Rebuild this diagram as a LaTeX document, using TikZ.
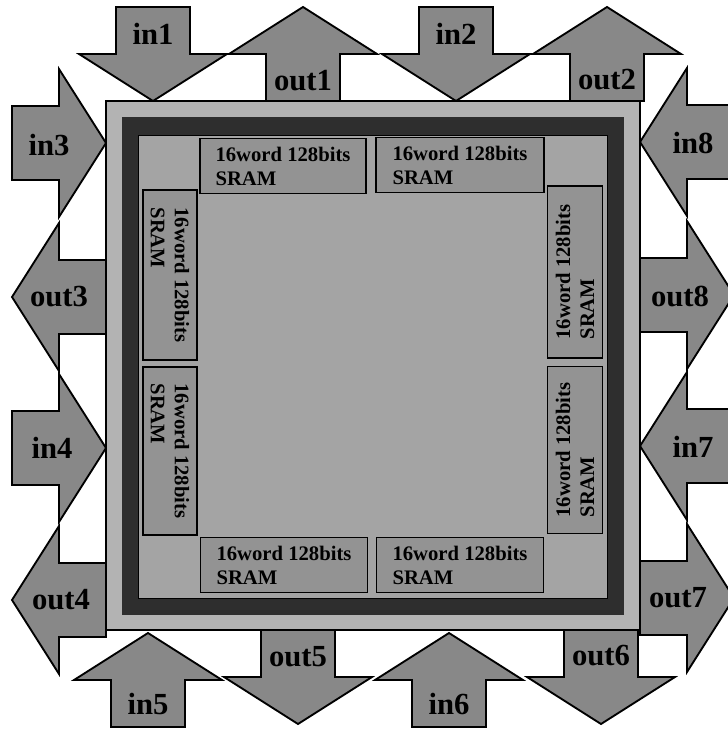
\documentclass[tikz,border=0pt]{standalone}
\usepackage{fontspec}
\setmainfont{Liberation Serif}
\usepackage{tikz}
\definecolor{chipArrowGray}{HTML}{888888}
\definecolor{chipPadGray}{HTML}{B3B3B3}
\definecolor{chipRingDark}{HTML}{2E2E2E}
\definecolor{chipCoreGray}{HTML}{A4A4A4}
\definecolor{chipSramGray}{HTML}{939393}
\tikzset{
    pinarrow/.style={draw=black, line width=1.4pt, fill=chipArrowGray, line join=miter},
    pinlabel/.style={font=\fontsize{23}{25}\selectfont\bfseries, inner sep=0pt},
    sramhoriz/.style={draw=black, line width=1.2pt, fill=chipSramGray, minimum width=166*0.75pt, minimum height=55*0.75pt, align=left, inner sep=0pt, font=\fontsize{15.5}{18}\selectfont\bfseries},
    sramvert/.style={sramhoriz, minimum width=170*0.75pt, minimum height=54*0.75pt}
}
\begin{document}
\begin{tikzpicture}[x=0.75pt, y=-0.75pt]
            \useasboundingbox (0,0) rectangle (727,730);
            % pins round the die
            \foreach \n/\bx/\by/\ang/\lx/\ly in {in1/153/7/-90/153/34, out1/303/101/90/303/81, in2/456/7/-90/456/34, out2/607/101/90/607/80,
                in3/12/143/0/49/145, out3/106/297/180/59/297, in4/12/448/0/52/448, out4/106/600/180/61/600,
                in5/148/727/90/148/704, out5/298/630/-90/298/657, in6/449/727/90/449/704, out6/601/630/-90/601/656,
                in8/734/142/180/693/143, out8/640/295/0/680/296, in7/734/446/180/693/447, out7/640/598/0/678/598}{
                \begin{scope}[shift={(\bx,\by)}, rotate=\ang]
                    \draw[pinarrow] (0,-37) -- (47,-37) -- (47,-74) -- (94,0) -- (47,74) -- (47,37) -- (0,37) -- cycle;
                \end{scope}
                \node[pinlabel] (\n) at (\lx,\ly) {\n};
            }
            % die, ring and core
            \draw[line width=1.4pt, fill=chipPadGray] (106,101) rectangle (640,630);
            \fill[chipRingDark] (122,117) rectangle (624,615);
            \draw[line width=0.6pt, fill=chipCoreGray] (138,135) rectangle (607,598);
            % SRAM blocks
            \node[sramhoriz] (sramT1) at (283,166) {16word 128bits\\SRAM};
            \node[sramhoriz, minimum width=168*0.75pt] (sramT2) at (460,165) {16word 128bits\\SRAM};
            \node[sramhoriz, minimum width=167*0.75pt] (sramB1) at (284,565) {16word 128bits\\SRAM};
            \node[sramhoriz, minimum width=167*0.75pt] (sramB2) at (460,565) {16word 128bits\\SRAM};
            \node[sramvert, rotate=-90] (sramL1) at (170,275) {16word 128bits\\SRAM};
            \node[sramvert, rotate=-90, minimum width=168*0.75pt] (sramL2) at (170,451) {16word 128bits\\SRAM};
            \node[sramvert, rotate=90, minimum width=172*0.75pt, minimum height=55*0.75pt] (sramR1) at (575,272) {16word 128bits\\SRAM};
            \node[sramvert, rotate=90, minimum width=167*0.75pt, minimum height=55*0.75pt] (sramR2) at (575,450) {16word 128bits\\SRAM};
        \end{tikzpicture}
\end{document}
